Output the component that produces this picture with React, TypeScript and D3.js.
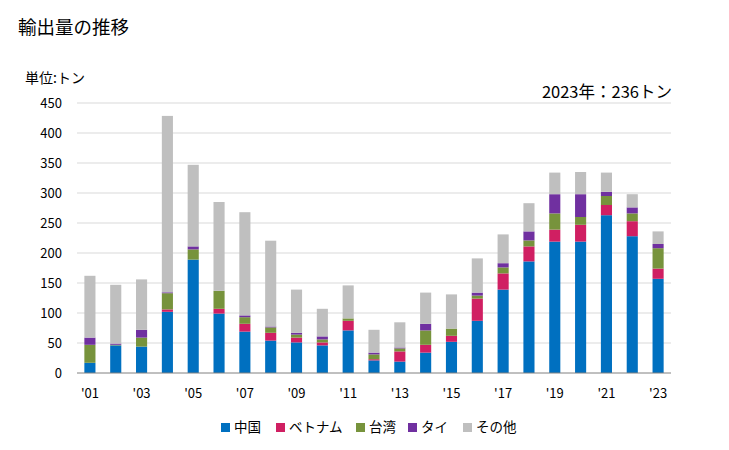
import React from "react";
import * as d3 from "d3";

const years = ["2001","2002","2003","2004","2005","2006","2007","2008","2009","2010","2011","2012","2013","2014","2015","2016","2017","2018","2019","2020","2021","2022","2023"];
const seriesNames = ["中国", "ベトナム", "台湾", "タイ", "その他"];
const china = [17, 46, 44, 102, 189, 99, 69, 54, 51, 46, 71, 21, 19, 34, 52, 87, 139, 186, 219, 219, 263, 228, 157];
const vietnam = [0, 0, 0, 4, 0, 8, 13, 13, 8, 5, 16, 2, 17, 13, 10, 37, 27, 25, 20, 28, 17, 25, 17];
const taiwan = [30, 1, 15, 27, 17, 30, 11, 9, 5, 5, 4, 8, 5, 24, 12, 5, 10, 10, 27, 13, 15, 13, 34];
const thai = [12, 2, 13, 1.5, 5, 0, 3, 1.5, 3, 5, 0, 3, 1.5, 11, 0, 5, 7, 15, 32, 38, 7, 10, 7];
const other = [103, 98, 84, 294, 136, 148, 172, 143, 72, 46, 55, 38, 42, 52, 57, 57, 48, 47, 36, 37, 32, 22, 21];
const colors = ["#0070C0", "#D01F62", "#77933C", "#7030A0", "#BFBFBF"];
const yTicks = [0, 50, 100, 150, 200, 250, 300, 350, 400, 450];

const FONT = "'Noto Sans CJK JP', 'Noto Sans', sans-serif";

export default function App() {
  const W = 729, H = 450;
  const left = 77, right = 671, top = 103, bottom = 373;
  const x = d3.scaleBand<string>().domain(years).range([left, right]).paddingInner(0.57).paddingOuter(0.285);
  const y = d3.scaleLinear().domain([0, 450]).range([bottom, top]);
  const table = years.map((yr, i) => ({ year: yr, s0: china[i], s1: vietnam[i], s2: taiwan[i], s3: thai[i], s4: other[i] }));
  const stack = d3.stack<any>().keys(["s0", "s1", "s2", "s3", "s4"])(table);
  const legendX = [221, 276, 356, 408, 463];
  return (
    <svg width={W} height={H} style={{ position: "absolute", left: 0, top: 0 }} fontFamily={FONT}>
      <rect width={W} height={H} fill="#fff" />
      <text x={18} y={34} fontSize={18.5} fill="#000">輸出量の推移</text>
      <text x={25} y={83} fontSize={14} fill="#000">単位:トン</text>
      <text x={672} y={98} fontSize={16.5} fill="#000" textAnchor="end">2023年：236トン</text>
      {yTicks.map(t => (
        <g key={t}>
          {t > 0 && <line x1={left} x2={right} y1={y(t)} y2={y(t)} stroke="#D9D9D9" strokeWidth={1} />}
          <text x={62} y={y(t) + 5} fontSize={13} textAnchor="end" fill="#000">{t}</text>
        </g>
      ))}
      {stack.map((layer, si) => (
        <g key={si} fill={colors[si]}>
          {layer.map((d, i) => (
            <rect key={i} x={x(years[i])} width={x.bandwidth()} y={y(d[1])} height={Math.max(0, y(d[0]) - y(d[1]))} />
          ))}
        </g>
      ))}
      <line x1={left} x2={right} y1={bottom} y2={bottom} stroke="#808080" strokeWidth={1} />
      {years.map((yr, i) => i % 2 === 0 ? (
        <text key={yr} x={(x(yr) as number) + x.bandwidth() / 2} y={398} fontSize={13} textAnchor="middle" fill="#000">{"'" + yr.slice(2)}</text>
      ) : null)}
      {seriesNames.map((n, i) => (
        <g key={n}>
          <rect x={legendX[i]} y={423} width={9} height={9} fill={colors[i]} />
          <text x={legendX[i] + 13} y={432} fontSize={13.5} fill="#000">{n}</text>
        </g>
      ))}
    </svg>
  );
}
